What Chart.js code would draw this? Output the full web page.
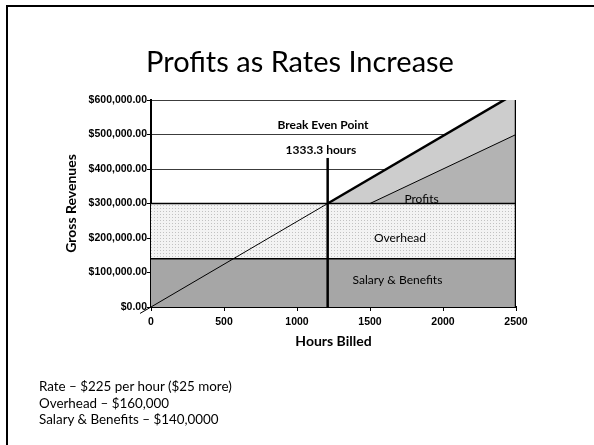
<!DOCTYPE html>
<html><head><meta charset="utf-8">
<script src="https://cdn.jsdelivr.net/npm/chart.js@4.4.1/dist/chart.umd.min.js"></script>
<style>
html,body{margin:0;padding:0;background:#fff;}
#wrap{position:relative;width:594px;height:445px;overflow:hidden;background:#fff;}
#frame{position:absolute;left:6px;top:5px;width:620px;height:480px;border-top:2px solid #000;border-left:2px solid #000;box-sizing:border-box;}
#c{position:absolute;left:0;top:0;}
#title{position:absolute;left:0;width:600px;top:46px;text-align:center;font:29px/29px Lato,sans-serif;color:#000;white-space:nowrap;}
#notes{position:absolute;left:39px;top:378px;font:13.4px/16.7px Lato,sans-serif;color:#000;white-space:nowrap;}
</style></head>
<body>
<div id="wrap">
<div id="frame"></div>
<canvas id="c" width="594" height="445"></canvas>
<div id="title">Profits as Rates Increase</div>
<div id="notes">Rate – $225 per hour ($25 more)<br>Overhead – $160,000<br>Salary &amp; Benefits – $140,0000</div>
</div>
<script>
// ---- data ----
const xTickLabels = ['0', '500', '1000', '1500', '2000', '2500'];
const yTickLabels = ['$0.00', '$100,000.00', '$200,000.00', '$300,000.00', '$400,000.00', '$500,000.00', '$600,000.00'];

const salaryHours = [0, 2500];
const salaryValues = [140000, 140000];

const overheadHours = [0, 2500];
const overheadValues = [300000, 300000];

const revenueLowHours = [-75, 0, 1210];
const revenueLowValues = [-18600, 0, 300000];

const revenueHighHours = [1210, 2500];
const revenueHighValues = [300000, 620000];

const profitInnerHours = [1500, 2500];
const profitInnerValues = [300000, 500000];

const breakEvenHours = [1210, 1210];
const breakEvenValues = [0, 432000];

const limitHours = [2500, 2500];
const limitValues = [0, 610000];

const labelTexts = ['Break Even Point', '1333.3 hours', 'Profits', 'Overhead', 'Salary & Benefits'];
const labelHours = [1178, 1164, 1853, 1705, 1688];
const labelValues = [527000, 455000, 313000, 200000, 78000];
const labelBold = [true, true, false, false, false];

// ---- build ----
const pts = (xs, ys) => xs.map((x, i) => ({x: x, y: ys[i]}));
const canvas = document.getElementById('c');
const ctx = canvas.getContext('2d');

const tile = document.createElement('canvas');
tile.width = 3; tile.height = 3;
const tg = tile.getContext('2d');
tg.fillStyle = '#f3f3f3'; tg.fillRect(0, 0, 3, 3);
tg.fillStyle = '#c2c2c2'; tg.fillRect(1, 1, 1, 1);
const dotPattern = ctx.createPattern(tile, 'repeat');

const tickFont = {family: '"Liberation Sans", Arial, sans-serif', size: 10.5, weight: 'bold'};
const titleFont = {family: 'Lato, sans-serif', size: 14, weight: 'bold'};

const areaLabels = {
  id: 'areaLabels',
  afterDatasetsDraw(chart) {
    const c = chart.ctx, xs = chart.scales.x, ys = chart.scales.y;
    c.save();
    c.fillStyle = '#000';
    c.textAlign = 'center';
    c.textBaseline = 'middle';
    labelTexts.forEach((t, i) => {
      c.font = (labelBold[i] ? 'bold ' : '') + '12px Lato, sans-serif';
      c.fillText(t, xs.getPixelForValue(labelHours[i]), ys.getPixelForValue(labelValues[i]));
    });
    c.restore();
  }
};

new Chart(ctx, {
  type: 'line',
  data: {
    datasets: [
      {data: pts(revenueHighHours, revenueHighValues), borderColor: '#000', borderWidth: 2.5, backgroundColor: '#cdcdcd', fill: {value: 300000}, order: 7},
      {data: pts(profitInnerHours, profitInnerValues), borderColor: '#000', borderWidth: 1, backgroundColor: '#b3b3b3', fill: {value: 300000}, order: 6},
      {data: pts(overheadHours, overheadValues), borderColor: '#000', borderWidth: 1.5, backgroundColor: dotPattern, fill: {value: 140000}, order: 5},
      {data: pts(salaryHours, salaryValues), borderColor: '#000', borderWidth: 1.5, backgroundColor: '#a6a6a6', fill: 'origin', order: 4},
      {data: pts(revenueLowHours, revenueLowValues), borderColor: '#000', borderWidth: 1, fill: false, clip: false, order: 3},
      {data: pts(breakEvenHours, breakEvenValues), borderColor: '#000', borderWidth: 2.5, fill: false, order: 2},
      {data: pts(limitHours, limitValues), borderColor: '#000', borderWidth: 2.5, fill: false, order: 1}
    ]
  },
  options: {
    responsive: false,
    animation: false,
    events: [],
    layout: {padding: {left: 60, right: 78, top: 100, bottom: 91}},
    elements: {point: {radius: 0}, line: {tension: 0}},
    plugins: {legend: {display: false}, tooltip: {enabled: false}, title: {display: false}},
    scales: {
      x: {
        type: 'linear', position: 'bottom', min: 0, max: 2500,
        ticks: {stepSize: 500, autoSkip: false, maxRotation: 0, padding: 5, color: '#000', font: tickFont,
          callback: (v, i) => xTickLabels[i]},
        grid: {drawOnChartArea: false, drawTicks: true, tickLength: 4, tickColor: '#000', tickWidth: 1},
        border: {display: true, color: '#000', width: 2},
        title: {display: true, text: 'Hours Billed', color: '#000', font: titleFont, padding: {top: 0, bottom: 4}},
        afterFit: s => { s.height = 47; }
      },
      y: {
        type: 'linear', position: 'left', min: 0, max: 600000,
        ticks: {stepSize: 100000, autoSkip: false, padding: 0, color: '#000', font: tickFont,
          callback: (v, i) => yTickLabels[i]},
        grid: {color: '#3c3c3c', lineWidth: 1, drawTicks: true, tickLength: 4, tickColor: '#000', tickWidth: 1},
        border: {display: true, color: '#000', width: 2},
        title: {display: true, text: 'Gross Revenues', color: '#000', font: titleFont, padding: {top: 3, bottom: 0}},
        afterFit: s => { s.width = 91; }
      }
    }
  },
  plugins: [areaLabels]
});
</script>
</body></html>
